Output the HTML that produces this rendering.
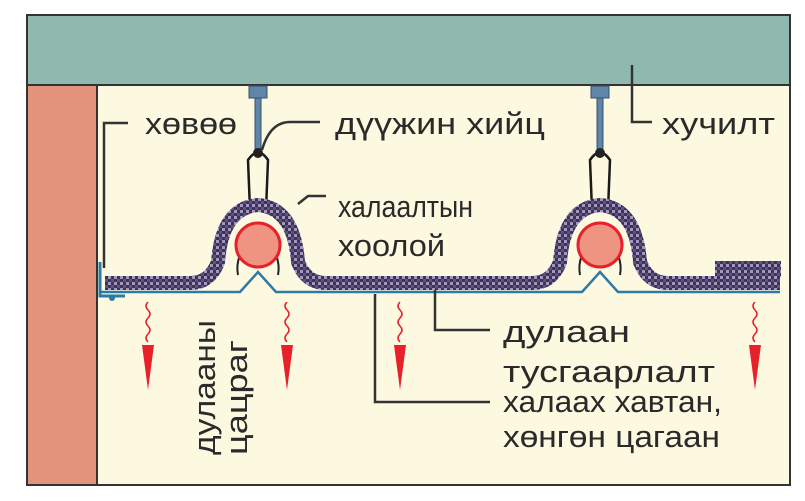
<!DOCTYPE html>
<html><head><meta charset="utf-8"><style>
html,body{margin:0;padding:0;background:#fff;}
svg{display:block;}
text{font-family:"Liberation Sans",sans-serif;fill:#2a2a2a;font-size:31px;}
</style></head><body>
<svg width="805" height="501" viewBox="0 0 805 501">
<defs>
<pattern id="chk" width="6" height="6" patternUnits="userSpaceOnUse">
<rect width="6" height="6" fill="#3b3552"/>
<rect width="3" height="3" fill="#a497c8"/>
<rect x="3" y="3" width="3" height="3" fill="#5d5478"/>
</pattern>
</defs>
<rect x="0" y="0" width="805" height="501" fill="#fff"/>
<rect x="27" y="15" width="763" height="470" fill="#fdf9e1" stroke="#333" stroke-width="2"/>
<rect x="27" y="15" width="763" height="70" fill="#8fb9ae" stroke="#333" stroke-width="2"/>
<rect x="28" y="86" width="69" height="398" fill="#e3937c"/>
<line x1="97" y1="86" x2="97" y2="484" stroke="#333" stroke-width="2"/>

<g>
<rect x="249" y="86" width="18" height="12" fill="#5f86a8" stroke="#34506b"/>
<rect x="255" y="98" width="6" height="52" fill="#5f86a8" stroke="#34506b"/>
<rect x="591" y="86" width="18" height="12" fill="#5f86a8" stroke="#34506b"/>
<rect x="597" y="98" width="6" height="52" fill="#5f86a8" stroke="#34506b"/>
</g>
<g fill="none" stroke="#1a1a1a" stroke-width="2.5">
<path d="M250 210 L248 160 Q258 145 268 160 L266 210"/>
<path d="M592 210 L590 160 Q600 145 610 160 L608 210"/>
</g>
<circle cx="258" cy="153" r="5" fill="#222"/>
<circle cx="600" cy="153" r="5" fill="#222"/>

<g fill="none" stroke="url(#chk)" stroke-width="14">
<path d="M105 283 L190 283 Q210 283 218 262 Q222 208 258 205 Q294 208 298 262 Q306 283 326 283 L532 283 Q552 283 560 262 Q564 208 600 205 Q636 208 640 262 Q648 283 668 283 L780 283"/>
</g>
<rect x="715" y="261" width="66" height="16" fill="url(#chk)"/>

<g fill="none" stroke="#222" stroke-width="2">
<path d="M240 255 Q236 265 238 275"/><path d="M276 255 Q280 265 278 275"/>
<path d="M582 255 Q578 265 580 275"/><path d="M618 255 Q622 265 620 275"/>
</g>
<circle cx="258" cy="245" r="22" fill="#ef9480" stroke="#e8202a" stroke-width="3"/>
<circle cx="600" cy="245" r="22" fill="#ef9480" stroke="#e8202a" stroke-width="3"/>

<path d="M100 292 L240 292 L258 272 L276 292 L582 292 L600 272 L618 292 L780 292" fill="none" stroke="#2d7aa4" stroke-width="2.5"/>
<path d="M100 262 L100 296 L125 296" fill="none" stroke="#2d7aa4" stroke-width="3"/>
<circle cx="112" cy="298" r="3" fill="#2d7aa4"/>

<g fill="none" stroke="#333" stroke-width="2.5">
<path d="M104 268 L104 123 L128 123"/>
<path d="M262 150 Q270 122 290 122 L320 122"/>
<path d="M298 204 L308 196 L326 196"/>
<path d="M632 65 L632 122 L652 122"/>
<path d="M435 290 L435 330 L490 330"/>
<path d="M375 294 L375 402 L490 402"/>
</g>

<g>
<g id="ar">
<path d="M148 302 q-4 4 0 8 q4 4 0 8 q-4 4 0 8 q4 4 0 8 q-4 4 0 8" fill="none" stroke="#e8202a" stroke-width="1.5"/>
<path d="M142 345 L154 345 L148 390 Z" fill="#e8202a"/>
</g>
<use href="#ar" x="139"/>
<use href="#ar" x="252"/>
<use href="#ar" x="607"/>
</g>

<text x="145" y="134" textLength="92" lengthAdjust="spacingAndGlyphs">хөвөө</text>
<text x="335" y="134" textLength="210" lengthAdjust="spacingAndGlyphs">дүүжин хийц</text>
<text x="662" y="134" textLength="113" lengthAdjust="spacingAndGlyphs">хучилт</text>
<text x="338" y="217" textLength="135" lengthAdjust="spacingAndGlyphs">халаалтын</text>
<text x="338" y="256" textLength="107" lengthAdjust="spacingAndGlyphs">хоолой</text>
<text x="503" y="342" textLength="127" lengthAdjust="spacingAndGlyphs">дулаан</text>
<text x="503" y="382" textLength="212" lengthAdjust="spacingAndGlyphs">тусгаарлалт</text>
<text x="503" y="412" textLength="219" lengthAdjust="spacingAndGlyphs">халаах хавтан,</text>
<text x="503" y="447" textLength="217" lengthAdjust="spacingAndGlyphs">хөнгөн цагаан</text>
<text transform="translate(215,455) rotate(-90)" textLength="135" lengthAdjust="spacingAndGlyphs">дулааны</text>
<text transform="translate(247,455) rotate(-90)" textLength="115" lengthAdjust="spacingAndGlyphs">цацраг</text>
</svg>
</body></html>
